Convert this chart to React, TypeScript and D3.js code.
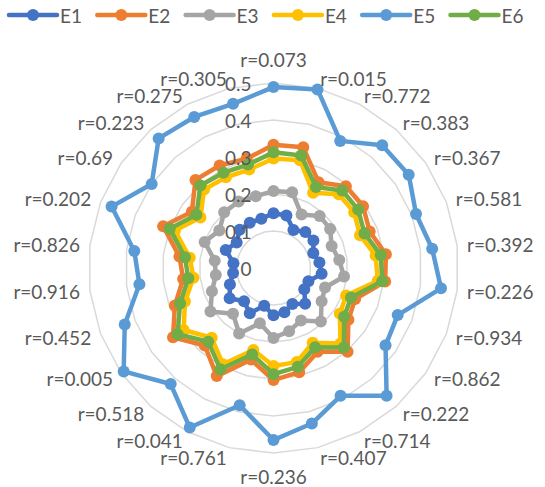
import React from "react";
import * as d3 from "d3";

const categories = ["r=0.073","r=0.015","r=0.772","r=0.383","r=0.367","r=0.581","r=0.392","r=0.226","r=0.934","r=0.862","r=0.222","r=0.714","r=0.407","r=0.236","r=0.761","r=0.041","r=0.518","r=0.005","r=0.452","r=0.916","r=0.826","r=0.202","r=0.69","r=0.223","r=0.275","r=0.305"];

const E1 = [0.148, 0.146, 0.116, 0.13, 0.131, 0.115, 0.125, 0.131, 0.101, 0.101, 0.129, 0.11, 0.123, 0.128, 0.105, 0.138, 0.12, 0.144, 0.126, 0.11, 0.109, 0.138, 0.121, 0.138, 0.138, 0.137];
const E2 = [0.333, 0.336, 0.262, 0.295, 0.294, 0.278, 0.306, 0.304, 0.236, 0.246, 0.302, 0.256, 0.29, 0.303, 0.255, 0.33, 0.28, 0.33, 0.285, 0.246, 0.256, 0.319, 0.268, 0.318, 0.313, 0.304];
const E3 = [0.208, 0.211, 0.163, 0.188, 0.186, 0.168, 0.179, 0.192, 0.149, 0.158, 0.193, 0.16, 0.176, 0.189, 0.154, 0.2, 0.165, 0.207, 0.178, 0.157, 0.16, 0.199, 0.178, 0.201, 0.203, 0.2];
const E4 = [0.296, 0.3, 0.23, 0.266, 0.265, 0.25, 0.278, 0.284, 0.21, 0.218, 0.273, 0.228, 0.262, 0.265, 0.228, 0.294, 0.252, 0.295, 0.256, 0.218, 0.228, 0.285, 0.24, 0.283, 0.277, 0.274];
const E5 = [0.489, 0.497, 0.388, 0.443, 0.444, 0.412, 0.432, 0.456, 0.359, 0.368, 0.461, 0.39, 0.433, 0.465, 0.382, 0.487, 0.419, 0.492, 0.43, 0.365, 0.379, 0.468, 0.4, 0.468, 0.461, 0.457];
const E6 = [0.313, 0.313, 0.247, 0.28, 0.278, 0.263, 0.292, 0.296, 0.224, 0.232, 0.287, 0.242, 0.275, 0.287, 0.241, 0.309, 0.266, 0.315, 0.27, 0.232, 0.241, 0.3, 0.253, 0.298, 0.291, 0.288];

const seriesNames = ["E1", "E2", "E3", "E4", "E5", "E6"];
const seriesValues = [E1, E2, E3, E4, E5, E6];
const seriesColors = ["#4472C4", "#ED7D31", "#A5A5A5", "#FFC000", "#5B9BD5", "#70AD47"];
const ticks = [0, 0.1, 0.2, 0.3, 0.4, 0.5];

const W = 545, H = 487;
const cx = 273.5, cy = 268;
const R = 185;
const FONT = "Lato, 'Liberation Sans', sans-serif";

export default function App() {
  const n = categories.length;
  const r = d3.scaleLinear().domain([0, 0.5]).range([0, R]);
  const ang = d3.scaleLinear().domain([0, n]).range([0, 2 * Math.PI]);
  const idx = d3.range(n);

  const line = d3.lineRadial<number>()
    .angle((_, i) => ang(i))
    .radius((d) => r(d))
    .curve(d3.curveLinearClosed);

  const grid = d3.lineRadial<number>()
    .angle((i) => ang(i))
    .radius(0)
    .curve(d3.curveLinearClosed);

  const pt = (i: number, rad: number) => [Math.sin(ang(i)) * rad, -Math.cos(ang(i)) * rad];

  return (
    <svg width={W} height={H} style={{ position: "absolute", left: 0, top: 0, background: "#fff" }} fontFamily={FONT}>
      {/* legend */}
      {seriesNames.map((name, k) => {
        const x0 = 9 + k * 88.3;
        return (
          <g key={name}>
            <line x1={x0} x2={x0 + 48} y1={15} y2={15} stroke={seriesColors[k]} strokeWidth={4.5} strokeLinecap="round" />
            <circle cx={x0 + 24} cy={15} r={6} fill={seriesColors[k]} />
            <text x={x0 + 51} y={15} dominantBaseline="central" fontSize={19} fill="#595959">{name}</text>
          </g>
        );
      })}
      <g transform={`translate(${cx},${cy})`}>
        {ticks.filter((t) => t > 0).map((t) => (
          <path key={t} d={d3.lineRadial<number>().angle((i) => ang(i)).radius(r(t)).curve(d3.curveLinearClosed)(idx) || ""} fill="none" stroke="#D9D9D9" strokeWidth={1.5} />
        ))}
        {seriesValues.map((vals, k) => (
          <g key={seriesNames[k]}>
            <path d={line(vals) || ""} fill="none" stroke={seriesColors[k]} strokeWidth={4.5} strokeLinejoin="round" />
            {vals.map((v, i) => {
              const [x, y] = pt(i, r(v));
              return <circle key={i} cx={x} cy={y} r={6} fill={seriesColors[k]} />;
            })}
          </g>
        ))}
        {ticks.map((t) => (
          <text key={t} x={-22} y={-r(t)} textAnchor="end" dominantBaseline="central" fontSize={19} fill="#595959">{d3.format("~g")(t)}</text>
        ))}
        {categories.map((c, i) => {
          const [x, y] = pt(i, R + 10);
          let anchor = "start";
          let dy = 0;
          if (i === 0) { anchor = "middle"; dy = -14; }
          else if (i === n / 2) { anchor = "middle"; dy = 13; }
          else if (i > n / 2) anchor = "end";
          return (
            <text key={c + i} x={x} y={y + dy} textAnchor={anchor} dominantBaseline="central" fontSize={19} fill="#595959">{c}</text>
          );
        })}
      </g>
    </svg>
  );
}
